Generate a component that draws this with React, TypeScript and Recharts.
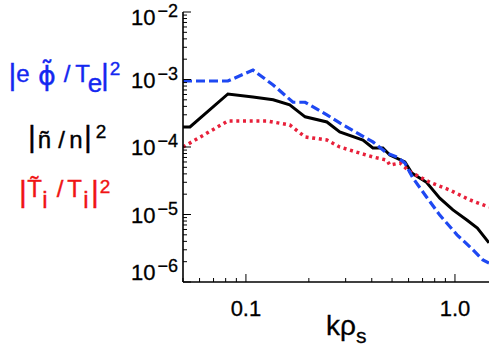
import { LineChart, Line, XAxis, YAxis } from "recharts";

// |n~/n|^2  (black, solid)
const kN = [0.05, 0.054, 0.082, 0.108, 0.135, 0.162, 0.192, 0.244, 0.281, 0.363, 0.405, 0.452, 0.488, 0.576, 0.622, 0.731, 0.846, 0.978, 1.14, 1.28, 1.455];
const nVals = [1.98e-4, 1.98e-4, 6.1e-4, 5.5e-4, 5.0e-4, 4.2e-4, 2.8e-4, 2.35e-4, 1.67e-4, 1.27e-4, 9.7e-5, 9.7e-5, 7.6e-5, 6.0e-5, 4.1e-5, 3.0e-5, 1.75e-5, 1.17e-5, 8.3e-6, 6.3e-6, 3.8e-6];

// |e phi~/Te|^2  (blue, dashed)
const kPhi = [0.05, 0.082, 0.108, 0.135, 0.168, 0.192, 0.244, 0.281, 0.405, 0.472, 0.528, 0.576, 0.628, 0.731, 0.846, 1.023, 1.22, 1.36, 1.455];
const phiVals = [9.5e-4, 9.5e-4, 1.38e-3, 8.3e-4, 4.6e-4, 4.6e-4, 3.0e-4, 2.27e-4, 1.19e-4, 8.1e-5, 7.1e-5, 5.8e-5, 3.5e-5, 1.82e-5, 9.8e-6, 5.0e-6, 3.0e-6, 2.12e-6, 1.91e-6];

// |Ti~/Ti|^2  (red, dotted)
const kTi = [0.05, 0.082, 0.126, 0.162, 0.192, 0.244, 0.281, 0.405, 0.472, 0.488, 0.546, 0.609, 0.758, 0.945, 1.18, 1.455];
const tiVals = [1.0e-4, 2.43e-4, 2.43e-4, 2.12e-4, 1.41e-4, 1.27e-4, 1.0e-4, 7.1e-5, 6.4e-5, 5.4e-5, 5.8e-5, 4.3e-5, 3.0e-5, 2.3e-5, 1.64e-5, 1.29e-5];

const xMajor = [0.1, 1];
const xMajorLabels = ["0.1", "1.0"];
const yMajor = [1e-6, 1e-5, 1e-4, 1e-3, 1e-2];
const yExponents = ["\u22126", "\u22125", "\u22124", "\u22123", "\u22122"];

const X_DOMAIN: [number, number] = [0.05, 1.455];
const Y_DOMAIN: [number, number] = [1e-6, 1e-2];

// log minor ticks inside a domain
const logTicks = (lo: number, hi: number) => {
  const out: number[] = [];
  for (let e = Math.floor(Math.log10(lo)); e <= Math.ceil(Math.log10(hi)); e++) {
    for (let m = 1; m <= 9; m++) {
      const v = m * Math.pow(10, e);
      if (v >= lo * 0.9999 && v <= hi * 1.0001) out.push(v);
    }
  }
  return out;
};
const xTicks = logTicks(X_DOMAIN[0], X_DOMAIN[1]);
const yTicks = logTicks(Y_DOMAIN[0], Y_DOMAIN[1]);

const idxOf = (arr: number[], v: number) => arr.findIndex((m) => Math.abs(m - v) / m < 1e-6);

const BottomTick = (props: any) => {
  const { x, y, payload } = props;
  const i = idxOf(xMajor, payload.value);
  return (
    <g>
      <line x1={x} x2={x} y1={y} y2={y - (i >= 0 ? 8 : 4)} stroke="#000" />
      {i >= 0 && (
        <text x={x} y={y + 34} textAnchor="middle" fontSize={22} fill="#000" stroke="#000" strokeWidth={0.3}>
          {xMajorLabels[i]}
        </text>
      )}
    </g>
  );
};

const TopTick = (props: any) => {
  const { x, y, payload } = props;
  const i = idxOf(xMajor, payload.value);
  return <line x1={x} x2={x} y1={y} y2={y + (i >= 0 ? 8 : 4)} stroke="#000" />;
};

const LeftTick = (props: any) => {
  const { x, y, payload } = props;
  const i = idxOf(yMajor, payload.value);
  const off = i === 0 ? -2 : i === yMajor.length - 1 ? 13 : 8;
  return (
    <g>
      <line x1={x} x2={x + (i >= 0 ? 8 : 4)} y1={y} y2={y} stroke="#000" />
      {i >= 0 && (
        <text x={x - 5} y={y + off} textAnchor="end" fontSize={22} fill="#000" stroke="#000" strokeWidth={0.3}>
          10<tspan dx={2} dy={-8} fontSize={18}>{yExponents[i]}</tspan>
        </text>
      )}
    </g>
  );
};

const RightTick = (props: any) => {
  const { x, y, payload } = props;
  const i = idxOf(yMajor, payload.value);
  return <line x1={x} x2={x - (i >= 0 ? 8 : 4)} y1={y} y2={y} stroke="#000" />;
};

const toRows = (ks: number[], vs: number[]) => ks.map((k, i) => ({ k, v: vs[i] }));

const BLUE_TXT = "#1428F0";
const RED_TXT = "#F01414";
const TILDE = "\u0303";

// each legend label is one text element, glyphs placed by tspans
const Legend = () => (
  <svg width={490} height={354} style={{ position: "absolute", left: 0, top: 0, pointerEvents: "none" }}>
    <text fill={BLUE_TXT} stroke={BLUE_TXT} strokeWidth={0.4} textAnchor="middle" fontSize={24}>
      <tspan x={12.5} y={85} fontSize={30}>|</tspan>
      <tspan x={23} y={82}>e</tspan>
      <tspan x={47} y={85} fontSize={27} fontFamily="'DejaVu Sans'">{"ϕ" + TILDE}</tspan>
      <tspan x={67} y={82}>/</tspan>
      <tspan x={82.5} y={82}>T</tspan>
      <tspan x={95} y={92} fontSize={26}>e</tspan>
      <tspan x={105} y={85} fontSize={30}>|</tspan>
      <tspan x={115} y={75} fontSize={19}>2</tspan>
    </text>
    <text fill="#000" stroke="#000" strokeWidth={0.4} textAnchor="middle" fontSize={24}>
      <tspan x={32} y={147} fontSize={30}>|</tspan>
      <tspan x={44.5} y={148}>{"n" + TILDE}</tspan>
      <tspan x={61.5} y={148}>/</tspan>
      <tspan x={76} y={148}>n</tspan>
      <tspan x={88} y={147} fontSize={30}>|</tspan>
      <tspan x={101} y={138} fontSize={19}>2</tspan>
    </text>
    <text fill={RED_TXT} stroke={RED_TXT} strokeWidth={0.4} textAnchor="middle" fontSize={24}>
      <tspan x={23} y={202} fontSize={30}>|</tspan>
      <tspan x={34.5} y={197}>{"T" + TILDE}</tspan>
      <tspan x={45} y={208}>i</tspan>
      <tspan x={60} y={197}>/</tspan>
      <tspan x={74.5} y={197}>T</tspan>
      <tspan x={86} y={208}>i</tspan>
      <tspan x={95} y={202} fontSize={30}>|</tspan>
      <tspan x={105} y={193} fontSize={19}>2</tspan>
    </text>
    {/* x-axis title */}
    <text x={326} y={335} fontSize={28} fill="#000" stroke="#000" strokeWidth={0.3}>
      kρ<tspan dy={8} fontSize={21}>s</tspan>
    </text>
  </svg>
);

export default function App() {
  const axisLine = { stroke: "#000", strokeWidth: 1.6 };
  return (
    <div
      style={{
        position: "absolute",
        left: 0,
        top: 0,
        width: 490,
        height: 354,
        background: "#fff",
        fontFamily: "'Liberation Sans', Arial, Helvetica, sans-serif",
        overflow: "hidden",
      }}
    >
      <LineChart width={490} height={354} margin={{ top: 12, right: 1, bottom: 0, left: 0 }}>
        <XAxis
          xAxisId="bottom"
          dataKey="k"
          type="number"
          scale="log"
          domain={X_DOMAIN}
          allowDataOverflow
          ticks={xTicks}
          interval={0}
          height={72}
          tickSize={0}
          tickMargin={0}
          tickLine={false}
          axisLine={axisLine}
          tick={<BottomTick />}
        />
        <XAxis
          xAxisId="top"
          orientation="top"
          dataKey="k"
          type="number"
          scale="log"
          domain={X_DOMAIN}
          allowDataOverflow
          ticks={xTicks}
          interval={0}
          height={0}
          tickSize={0}
          tickMargin={0}
          tickLine={false}
          axisLine={axisLine}
          tick={<TopTick />}
        />
        <YAxis
          yAxisId="left"
          type="number"
          scale="log"
          domain={Y_DOMAIN}
          allowDataOverflow
          ticks={yTicks}
          interval={0}
          width={183}
          tickSize={0}
          tickMargin={0}
          tickLine={false}
          axisLine={axisLine}
          tick={<LeftTick />}
        />
        <YAxis
          yAxisId="right"
          orientation="right"
          type="number"
          scale="log"
          domain={Y_DOMAIN}
          allowDataOverflow
          ticks={yTicks}
          interval={0}
          width={0}
          tickSize={0}
          tickMargin={0}
          tickLine={false}
          axisLine={axisLine}
          tick={<RightTick />}
        />
        <Line
          xAxisId="bottom"
          yAxisId="left"
          data={toRows(kN, nVals)}
          dataKey="v"
          type="linear"
          stroke="#000"
          strokeWidth={3}
          dot={false}
          isAnimationActive={false}
        />
        <Line
          xAxisId="bottom"
          yAxisId="left"
          data={toRows(kTi, tiVals)}
          dataKey="v"
          type="linear"
          stroke="#E8203A"
          strokeWidth={3.5}
          strokeDasharray="3 3.7"
          dot={false}
          isAnimationActive={false}
        />
        <Line
          xAxisId="bottom"
          yAxisId="left"
          data={toRows(kPhi, phiVals)}
          dataKey="v"
          type="linear"
          stroke="#1E48F2"
          strokeWidth={3.2}
          strokeDasharray="9 4"
          dot={false}
          isAnimationActive={false}
        />
      </LineChart>
      <Legend />
    </div>
  );
}
